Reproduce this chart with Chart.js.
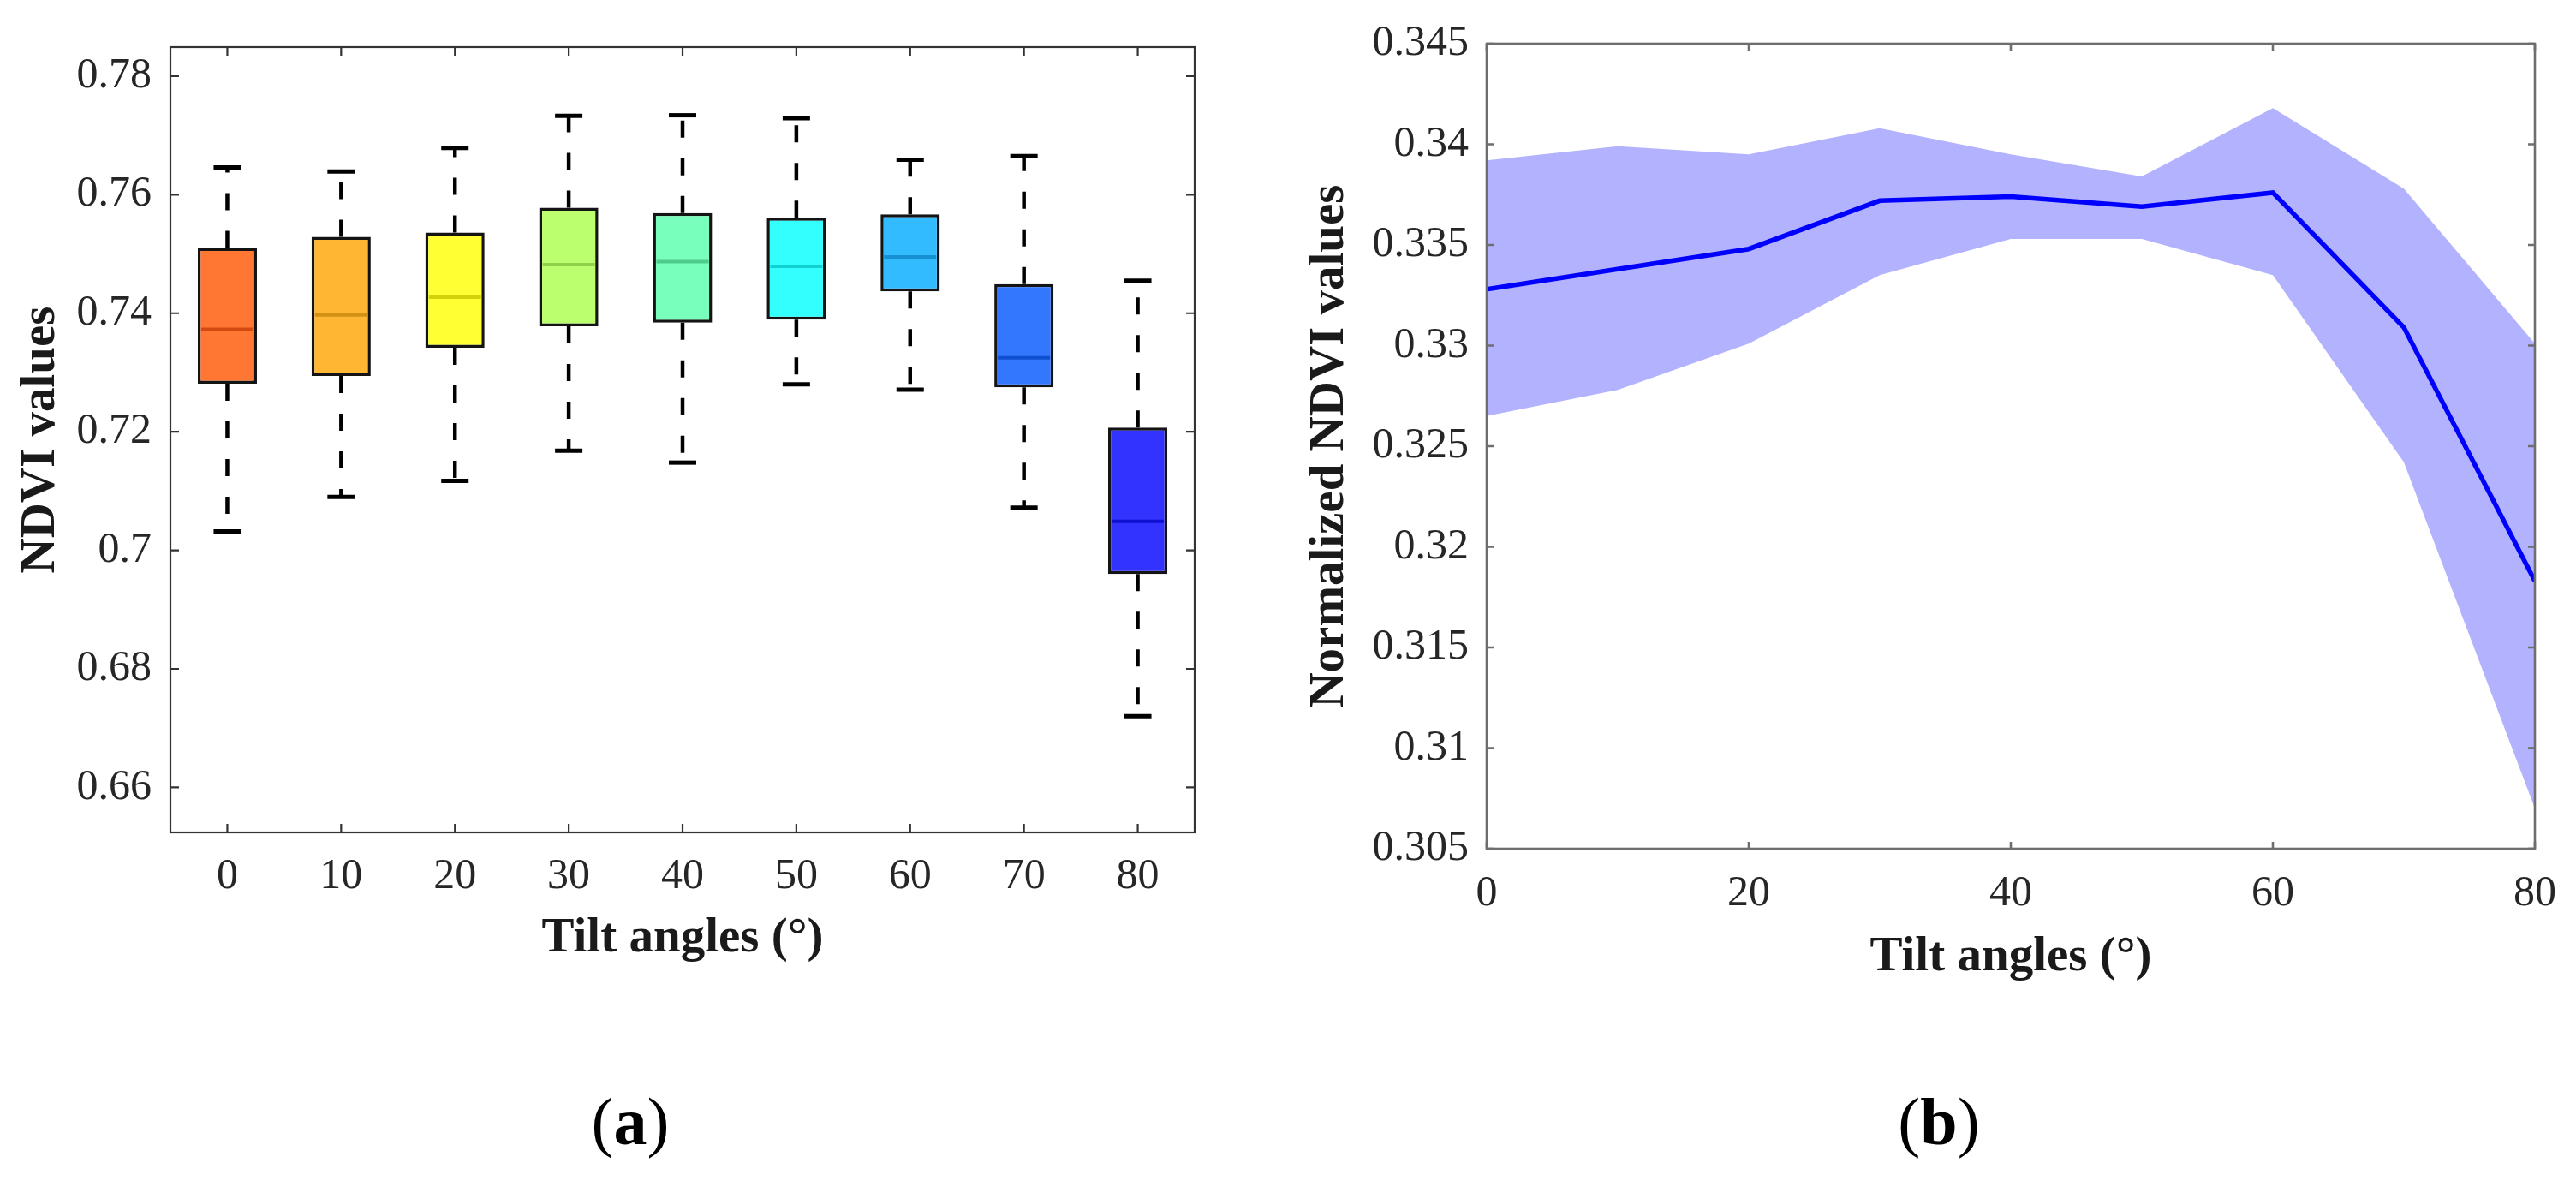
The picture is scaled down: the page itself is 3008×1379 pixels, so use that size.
<!DOCTYPE html>
<html><head><meta charset="utf-8">
<script src="https://cdn.jsdelivr.net/npm/chart.js@4.4.1/dist/chart.umd.min.js"></script>
<style>
html,body{margin:0;padding:0;background:#fff;width:3008px;height:1379px;overflow:hidden;}
canvas{position:absolute;}
#c1{left:0;top:0;width:1500px;height:1200px;}
#c2{left:1500px;top:0;width:1508px;height:1200px;}
.cap{position:absolute;top:1260px;height:100px;width:200px;display:flex;align-items:center;justify-content:center;font-family:"Liberation Serif","Times New Roman",serif;font-size:78px;line-height:1;color:#000;}
</style></head><body>
<canvas id="c1" width="1500" height="1200"></canvas>
<canvas id="c2" width="1508" height="1200"></canvas>
<div class="cap" style="left:636px">(<b>a</b>)</div>
<div class="cap" style="left:2164px">(<b>b</b>)</div>
<script>
// ---- (a) box plot data ----
const tiltCategories = ['0','10','20','30','40','50','60','70','80'];
const whiskerMin = [0.7032,0.7090,0.7117,0.7168,0.7148,0.7280,0.7271,0.7072,0.6720];
const quartile1  = [0.7281,0.7294,0.7342,0.7378,0.7384,0.7389,0.7437,0.7275,0.6960];
const medianVals = [0.7373,0.7397,0.7427,0.7482,0.7487,0.7479,0.7495,0.7325,0.7049];
const quartile3  = [0.7510,0.7529,0.7536,0.7578,0.7569,0.7561,0.7567,0.7449,0.7207];
const whiskerMax = [0.7646,0.7639,0.7679,0.7733,0.7734,0.7729,0.7659,0.7665,0.7455];
const leftYTicks = [0.66,0.68,0.70,0.72,0.74,0.76,0.78];
const boxFills   = ['#FF7733','#FFB733','#FFFF33','#BBFF6F','#77FFBB','#33FFFF','#33BBFF','#3377FF','#3333FF'];
const medianCols = ['#D24A12','#D09114','#D2D20A','#8FD24A','#4FCC8C','#10D0D0','#1590D0','#1050D0','#1010D0'];

// ---- (b) line + band data ----
const tiltAngles = [0,10,20,30,40,50,60,70,80];
const meanNDVI   = [0.3328,0.3338,0.3348,0.3372,0.3374,0.3369,0.3376,0.3309,0.3183];
const upperNDVI  = [0.3392,0.3399,0.3395,0.3408,0.3395,0.3384,0.3418,0.3378,0.3301];
const lowerNDVI  = [0.3265,0.3278,0.3301,0.3335,0.3353,0.3353,0.3335,0.3242,0.3070];
const rightXTicks = [0,20,40,60,80];
const rightYTicks = [0.305,0.31,0.315,0.32,0.325,0.33,0.335,0.34,0.345];

Chart.defaults.font.family = '"Liberation Serif","Times New Roman",serif';
Chart.defaults.color = '#262626';

const fmt = v => Number(Number(v).toFixed(3)).toString();

const frameTicks = {
  id: 'frameTicks',
  afterDatasetsDraw(chart, args, o) {
    const {ctx, chartArea: a} = chart;
    const xs = chart.scales.x, ys = chart.scales.y;
    ctx.save();
    ctx.strokeStyle = o.color; ctx.lineWidth = o.width; ctx.lineCap = 'butt';
    ctx.beginPath();
    xs.ticks.forEach((t, i) => {
      const px = xs.getPixelForTick(i);
      ctx.moveTo(px, a.bottom); ctx.lineTo(px, a.bottom - o.len);
      ctx.moveTo(px, a.top); ctx.lineTo(px, a.top + o.len);
    });
    ys.ticks.forEach((t, i) => {
      const py = ys.getPixelForTick(i);
      ctx.moveTo(a.left, py); ctx.lineTo(a.left + o.len, py);
      ctx.moveTo(a.right, py); ctx.lineTo(a.right - o.len, py);
    });
    ctx.stroke();
    ctx.strokeRect(a.left, a.top, a.right - a.left, a.bottom - a.top);
    ctx.restore();
  }
};

// whisker segments built from the named arrays (q3 -> max, q1 -> min)
const whiskerPts = [];
tiltCategories.forEach((c, i) => {
  whiskerPts.push({x: c, y: quartile3[i]}, {x: c, y: whiskerMax[i]}, {x: c, y: null});
  whiskerPts.push({x: c, y: quartile1[i]}, {x: c, y: whiskerMin[i]}, {x: c, y: null});
});

new Chart(document.getElementById('c1'), {
  data: {
    labels: tiltCategories,
    datasets: [
      {type: 'line', data: medianVals, showLine: false, pointStyle: 'line', pointRadius: 30.5,
       pointBorderWidth: 4, pointBorderColor: medianCols, pointBackgroundColor: medianCols},
      {type: 'line', data: whiskerMax, showLine: false, pointStyle: 'line', pointRadius: 16,
       pointBorderWidth: 5, pointBorderColor: '#000'},
      {type: 'line', data: whiskerMin, showLine: false, pointStyle: 'line', pointRadius: 16,
       pointBorderWidth: 5, pointBorderColor: '#000'},
      {type: 'bar', data: quartile1.map((q, i) => [q, quartile3[i]]), backgroundColor: boxFills,
       borderColor: '#141414', borderWidth: 3.5, borderSkipped: false,
       barPercentage: 0.52, categoryPercentage: 1},
      {type: 'line', data: whiskerPts, borderColor: '#000', borderWidth: 4.5, borderDash: [20, 24],
       pointRadius: 0, spanGaps: false, fill: false}
    ]
  },
  options: {
    responsive: false, animation: false, events: [],
    layout: {padding: {left: 0, top: 55, right: 105, bottom: 0}},
    plugins: {legend: {display: false}, tooltip: {enabled: false},
      frameTicks: {color: '#333', width: 2.2, len: 10}},
    scales: {
      x: {type: 'category', offset: true,
        grid: {display: false, drawTicks: false}, border: {display: false},
        ticks: {font: {size: 50}, padding: 22, maxRotation: 0, autoSkip: false},
        title: {display: true, text: 'Tilt angles (°)', color: '#1a1a1a',
          font: {size: 57, weight: 'bold'}, padding: {top: 0, bottom: 70}},
        afterFit: s => { s.height = 228; }
      },
      y: {type: 'linear', min: 0.6524, max: 0.7849,
        grid: {display: false, drawTicks: false}, border: {display: false},
        ticks: {font: {size: 50}, padding: 22, autoSkip: false, callback: v => fmt(v)},
        afterBuildTicks: s => { s.ticks = leftYTicks.map(v => ({value: v})); },
        title: {display: true, text: 'NDVI values', color: '#1a1a1a',
          font: {size: 57, weight: 'bold'}, padding: {top: 14, bottom: 0}},
        afterFit: s => { s.width = 199; }
      }
    }
  },
  plugins: [frameTicks]
});

new Chart(document.getElementById('c2'), {
  type: 'line',
  data: {
    labels: tiltAngles,
    datasets: [
      {data: meanNDVI.map((v, i) => ({x: tiltAngles[i], y: v})), borderColor: '#0000FF',
       borderWidth: 5.5, pointRadius: 0, fill: false, order: 0},
      {data: upperNDVI.map((v, i) => ({x: tiltAngles[i], y: v})), borderWidth: 0, borderColor: 'rgba(0,0,0,0)',
       pointRadius: 0, fill: {target: 2}, backgroundColor: 'rgba(0,0,255,0.3)', order: 1},
      {data: lowerNDVI.map((v, i) => ({x: tiltAngles[i], y: v})), borderWidth: 0, borderColor: 'rgba(0,0,0,0)',
       pointRadius: 0, fill: false, order: 2}
    ]
  },
  options: {
    responsive: false, animation: false, events: [],
    layout: {padding: {left: 0, top: 46, right: 47, bottom: 0}},
    plugins: {legend: {display: false}, tooltip: {enabled: false},
      filler: {propagate: false},
      frameTicks: {color: '#6e6e6e', width: 2.6, len: 8}},
    scales: {
      x: {type: 'linear', min: 0, max: 80,
        grid: {display: false, drawTicks: false}, border: {display: false},
        ticks: {font: {size: 50}, padding: 23, maxRotation: 0, autoSkip: false, callback: v => String(v)},
        afterBuildTicks: s => { s.ticks = rightXTicks.map(v => ({value: v})); },
        title: {display: true, text: 'Tilt angles (°)', color: '#1a1a1a',
          font: {size: 57, weight: 'bold'}, padding: {top: 0, bottom: 48}},
        afterFit: s => { s.height = 209; }
      },
      y: {type: 'linear', min: 0.305, max: 0.345,
        grid: {display: false, drawTicks: false}, border: {display: false},
        ticks: {font: {size: 50}, padding: 21, autoSkip: false, callback: v => fmt(v)},
        afterBuildTicks: s => { s.ticks = rightYTicks.map(v => ({value: v})); },
        title: {display: true, text: 'Normalized NDVI values', color: '#1a1a1a',
          font: {size: 57, weight: 'bold'}, padding: {top: 19, bottom: 0}},
        afterFit: s => { s.width = 236; }
      }
    }
  },
  plugins: [frameTicks]
});
</script>
</body></html>
